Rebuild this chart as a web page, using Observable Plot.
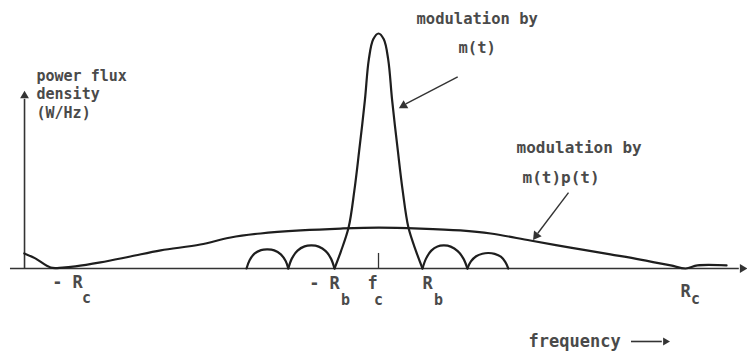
<!DOCTYPE html>
<html>
<head>
<meta charset="utf-8">
<script src="https://cdn.jsdelivr.net/npm/d3@7"></script>
<script src="https://cdn.jsdelivr.net/npm/@observablehq/plot@0.6"></script>
<style>
  html, body { margin: 0; padding: 0; background: #fff; }
  svg { display: block; }
</style>
</head>
<body>
<div id="chart"></div>
<script>
// Frequency in units of the data rate Rb, measured from the carrier fc.
// Power flux density normalised to the peak of the unspread spectrum.

// Spectrum spread by the chip sequence: m(t)p(t), nulls at ±Rc
const wideFreq  = [-8.05, -7.8, -7.45, -7.18, -6.89, -6.32, -5.64, -4.95, -4.05, -3.36, -2.68, -1.77, -0.86, 0, 0.95, 1.86, 2.55, 3.45, 4.36, 5.27, 5.95, 6.64, 6.98, 7.25, 7.91];
const widePower = [0.064, 0.043, 0.004, 0.004, 0.009, 0.026, 0.051, 0.077, 0.102, 0.132, 0.149, 0.162, 0.170, 0.174, 0.170, 0.162, 0.149, 0.119, 0.089, 0.060, 0.038, 0.013, 0.0, 0.013, 0.013];

// Data-only spectrum: m(t), main lobe between ±Rb plus two sidelobes each side
const narrowLobe  = [
  "L2","L2","L2","L2","L2","L2","L2","L2","L2",
  "L1","L1","L1","L1","L1","L1","L1","L1","L1",
  "M","M","M","M","M","M","M","M","M","M","M","M","M","M","M","M","M",
  "R1","R1","R1","R1","R1","R1","R1","R1","R1",
  "R2","R2","R2","R2","R2","R2","R2","R2","R2"
];
const narrowFreq  = [
  -3.0, -2.93, -2.82, -2.67, -2.52, -2.37, -2.22, -2.11, -2.05,
  -2.05, -1.97, -1.84, -1.68, -1.52, -1.36, -1.2, -1.08, -1.0,
  -1.0, -0.86, -0.68, -0.55, -0.44, -0.31, -0.22, -0.12, 0.0, 0.12, 0.22, 0.31, 0.44, 0.55, 0.68, 0.86, 1.0,
  1.0, 1.08, 1.2, 1.34, 1.49, 1.64, 1.8, 1.93, 2.02,
  2.02, 2.1, 2.22, 2.36, 2.5, 2.64, 2.78, 2.88, 2.95
];
const narrowPower = [
  0, 0.035, 0.063, 0.078, 0.081, 0.077, 0.060, 0.032, 0,
  0, 0.042, 0.076, 0.094, 0.098, 0.093, 0.074, 0.042, 0,
  0, 0.070, 0.174, 0.330, 0.500, 0.715, 0.890, 0.975, 1.0, 0.975, 0.890, 0.715, 0.500, 0.330, 0.174, 0.070, 0,
  0, 0.042, 0.076, 0.094, 0.098, 0.093, 0.074, 0.042, 0,
  0, 0.030, 0.052, 0.063, 0.066, 0.062, 0.050, 0.028, 0
];

// Frequency axis labels: main symbol and its subscript
const tickFreq = [-7, -1, 0, 1, 7];
const tickMain = ["- R", "- R", "f", "R", "R"];
const tickSub  = ["c", "b", "c", "b", "c"];

// Annotation text
const peakNote   = ["modulation by", "m(t)"];
const spreadNote = ["modulation by", "m(t)p(t)"];
const yLabel     = ["power flux", "density", "(W/Hz)"];
const xLabel     = "frequency";

const wide = wideFreq.map((f, i) => ({f, p: widePower[i]}));
const narrow = narrowFreq.map((f, i) => ({f, p: narrowPower[i], lobe: narrowLobe[i]}));

const ink = "#1e1e1e";
const textInk = "#4a4a4a";
const font = "DejaVu Sans Mono, monospace";

// label placement (pixel offsets from each tick)
const mainDx = [-3, -10, -6, 5, -1];
const mainDy = [14, 15, 15, 15, 23];
const subDx  = [16, 11, 0, 16, 9];
const subDy  = [30, 32, 32, 32, 31];

const tickLabelMarks = tickFreq.flatMap((f, i) => [
  Plot.text([f], {x: d => d, y: 0, text: () => tickMain[i], dx: mainDx[i], dy: mainDy[i],
    fontSize: 17, fontFamily: font, fontWeight: "bold", fill: textInk, textAnchor: "middle"}),
  Plot.text([f], {x: d => d, y: 0, text: () => tickSub[i], dx: subDx[i], dy: subDy[i],
    fontSize: 15, fontFamily: font, fontWeight: "bold", fill: textInk, textAnchor: "middle"})
]);

const textOpts = {fontFamily: font, fontWeight: "bold", fill: textInk, textAnchor: "start", lineAnchor: "middle"};

const chart = Plot.plot({
  width: 747,
  height: 351,
  margin: 0,
  x: {domain: [-8.591, 8.386], axis: null},
  y: {domain: [-0.3532, 1.1404], axis: null},
  style: {background: "#fff", overflow: "visible"},
  marks: [
    // axes
    Plot.ruleY([0], {x1: -8.364, x2: 8.2, stroke: "#333", strokeWidth: 1.6}),
    Plot.dot([8.27], {x: d => d, y: 0, symbol: "triangle2", rotate: 90, r: 4.2, fill: "#333"}),
    Plot.ruleX([-8.045], {y1: 0, y2: 0.72, stroke: "#333", strokeWidth: 1.6}),
    Plot.dot([-8.045], {x: d => d, y: 0.735, symbol: "triangle2", r: 4.2, fill: "#333"}),
    // carrier tick
    Plot.ruleX([0], {y1: 0, y2: 0.064, stroke: "#333", strokeWidth: 1.3}),

    // spectra
    Plot.line(wide, {x: "f", y: "p", stroke: ink, strokeWidth: 2.2, curve: "catmull-rom"}),
    Plot.line(narrow, {x: "f", y: "p", z: "lobe", stroke: ink, strokeWidth: 2.2, curve: "catmull-rom"}),

    // tick labels
    ...tickLabelMarks,

    // y-axis label
    Plot.text([yLabel[0]], {...textOpts, x: -7.773, y: 0.817, text: d => d, fontSize: 15}),
    Plot.text([yLabel[1]], {...textOpts, x: -7.773, y: 0.740, text: d => d, fontSize: 15}),
    Plot.text([yLabel[2]], {...textOpts, x: -7.773, y: 0.660, text: d => d, fontSize: 15}),

    // annotation for the unspread spectrum
    Plot.text([peakNote[0]], {...textOpts, x: 0.864, y: 1.060, text: d => d, fontSize: 15.5}),
    Plot.text([peakNote[1]], {...textOpts, x: 1.818, y: 0.940, text: d => d, fontSize: 15.5}),
    Plot.link([0], {x1: 1.80, y1: 0.815, x2: 0.62, y2: 0.700, stroke: "#333", strokeWidth: 1.4}),
    Plot.dot([0.57], {x: d => d, y: 0.693, symbol: "triangle2", rotate: -120, r: 4.5, fill: "#333"}),

    // annotation for the spread spectrum
    Plot.text([spreadNote[0]], {...textOpts, x: 3.136, y: 0.515, text: d => d, fontSize: 16}),
    Plot.text([spreadNote[1]], {...textOpts, x: 3.273, y: 0.387, text: d => d, fontSize: 16}),
    Plot.link([0], {x1: 4.318, y1: 0.323, x2: 3.62, y2: 0.150, stroke: "#333", strokeWidth: 1.4}),
    Plot.dot([3.585], {x: d => d, y: 0.140, symbol: "triangle2", rotate: -144, r: 4.5, fill: "#333"}),

    // frequency arrow label
    Plot.text([xLabel], {...textOpts, x: 3.409, y: -0.3106, text: d => d, fontSize: 17}),
    Plot.ruleY([-0.3106], {x1: 5.75, x2: 6.45, stroke: "#333", strokeWidth: 1.6}),
    Plot.dot([6.52], {x: d => d, y: -0.3106, symbol: "triangle2", rotate: 90, r: 3.8, fill: "#333"})
  ]
});

document.getElementById("chart").append(chart);
</script>
</body>
</html>
